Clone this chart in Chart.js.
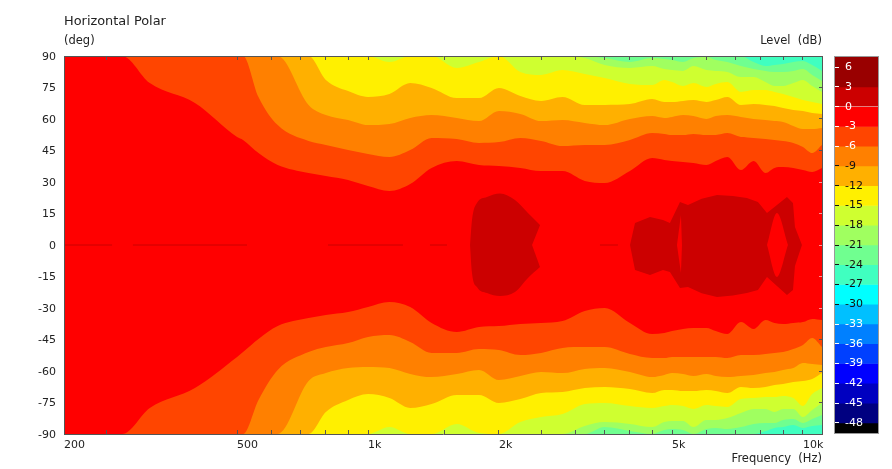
<!DOCTYPE html>
<html>
<head>
<meta charset="utf-8">
<title>Horizontal Polar</title>
<script src="https://cdn.jsdelivr.net/npm/chart.js@4/dist/chart.umd.min.js"></script>
<style>
  body { margin: 0; background: #fff; width: 892px; height: 469px; overflow: hidden; position: relative; }
  canvas { position: absolute; }
  .lbl { position: absolute; font: 11.5px "DejaVu Sans", sans-serif; color: #222; white-space: pre; line-height: 14px; }
</style>
</head>
<body>
<canvas id="polar" width="892" height="469" style="left:0;top:0"></canvas>
<canvas id="scale" width="45" height="378" style="left:834px;top:56px;outline:1px solid #999;outline-offset:-1px"></canvas>
<div class="lbl" style="left:64px;top:14px;font-size:12.9px">Horizontal Polar</div>
<div class="lbl" style="left:64px;top:33px">(deg)</div>
<div class="lbl" style="right:70px;top:33px">Level  (dB)</div>
<div class="lbl" style="right:70px;top:451px">Frequency  (Hz)</div>
<script>
// frequency grid the contours were read on (Hz)
const freqs = [200, 250, 272, 315, 400, 500, 516, 560, 620, 730, 800, 900, 1000, 1120, 1250, 1400, 1600, 1800, 2000, 2240, 2500, 2800, 3150, 3500, 4000, 4500, 4800, 5000, 5300, 5600, 6000, 6300, 6700, 7200, 7700, 8200, 8600, 9000, 9500, 10000, 10500, 11060];

// angle (deg) of each level contour, upper half
const upMinus3 = [90, 90, 90, 77.1, 67.6, 51.4, 50, 43.8, 38.1, 34.3, 32.9, 31, 28.1, 25.7, 29, 36.7, 40, 38.1, 37.6, 36.7, 35.2, 35.2, 30.5, 29.5, 35.2, 41.4, 40.5, 40, 39.5, 39, 38.1, 40, 41.9, 35.7, 40, 34.3, 36.7, 37.1, 36.7, 35.7, 34.8, 36.7];
const upMinus6 = [90, 90, 90, 90, 90, 90, 90, 70.5, 57.1, 49.5, 47.6, 45.2, 43.3, 41.9, 45.2, 51, 50.5, 48.6, 49, 51, 49.5, 47.1, 47.6, 47.6, 50, 53.3, 52.9, 52.4, 52.4, 52.9, 52.4, 52.4, 53.3, 51.4, 51, 50.5, 50, 49.5, 48.6, 46.7, 43.8, 47.6];
const upMinus9 = [90, 90, 90, 90, 90, 90, 90, 90, 90, 66.7, 61.9, 59.5, 57.1, 57.6, 60.5, 61.9, 60.5, 59, 63.8, 62.4, 59, 59.5, 58.1, 57.1, 60, 61.4, 60.5, 61, 61.9, 61.4, 60, 61.4, 61.9, 61, 60, 59.5, 59, 58.6, 56.7, 55.2, 55.2, 55.7];
const upMinus12 = [90, 90, 90, 90, 90, 90, 90, 90, 90, 90, 78.6, 73.3, 70.5, 71.9, 77.1, 74.8, 70, 70, 74.8, 71, 68.6, 70.5, 66.7, 66.7, 67.1, 69.5, 68.1, 68.1, 68.6, 69, 68.1, 69, 70.5, 66.7, 67.1, 66.7, 66.2, 65.2, 64.3, 63.8, 62.9, 62.4];
const upMinus15 = [90, 90, 90, 90, 90, 90, 90, 90, 90, 90, 90, 90, 90, 87.1, 90, 90, 84.3, 87.1, 90, 82.4, 81, 83.3, 81.4, 79.5, 76.7, 76.2, 78.6, 77.6, 75.7, 77.1, 75.2, 76.7, 77.6, 72.9, 73.8, 73.8, 72.9, 71.9, 70.5, 69, 68.1, 67.1];
const upMinus18 = [90, 90, 90, 90, 90, 90, 90, 90, 90, 90, 90, 90, 90, 90, 90, 90, 90, 90, 90, 90, 90, 90, 89, 85.7, 84.3, 85.2, 83.8, 83.3, 82.9, 85.2, 83.3, 82.9, 82.4, 80, 80, 77.6, 75.7, 75.7, 77.1, 78.6, 75.7, 72.9];
const upMinus21 = [90, 90, 90, 90, 90, 90, 90, 90, 90, 90, 90, 90, 90, 90, 90, 90, 90, 90, 90, 90, 90, 90, 90, 89, 87.1, 89, 88.6, 88.1, 87.1, 89, 89.5, 88.1, 87.1, 85.2, 83.8, 82.9, 82.4, 82.4, 82.9, 83.8, 81, 78.1];
const upMinus24 = [90, 90, 90, 90, 90, 90, 90, 90, 90, 90, 90, 90, 90, 90, 90, 90, 90, 90, 90, 90, 90, 90, 90, 90, 90, 90, 90, 90, 90, 90, 90, 90, 90, 90, 87.1, 85.2, 85.7, 86.2, 87.1, 87.6, 85.7, 82.9];

// same contours, lower half
const dnMinus3 = [-90, -90, -90, -77.6, -68.1, -53.3, -51, -44.8, -38.6, -34.8, -33.3, -31.9, -29.5, -27.1, -29.5, -37.1, -41.4, -39, -38.6, -37.6, -37.1, -36.2, -31.4, -30, -37.1, -42.4, -41.9, -41, -40, -39.5, -39.5, -41, -42.4, -36.7, -40, -35.7, -37.1, -37.6, -37.1, -36.7, -35.2, -35.7];
const dnMinus6 = [-90, -90, -90, -90, -90, -90, -90, -73.8, -59.5, -51, -48.6, -46.7, -43.8, -42.9, -46.2, -51.4, -51.4, -49.5, -50, -52.4, -51.4, -49, -48.6, -48.6, -51.9, -53.8, -53.8, -53.3, -53.3, -53.3, -53.3, -53.3, -53.8, -52.4, -52.4, -51.9, -51.4, -51, -49.5, -47.6, -44.3, -48.6];
const dnMinus9 = [-90, -90, -90, -90, -90, -90, -90, -90, -90, -64.8, -61, -58.6, -58.1, -58.6, -61.4, -62.9, -61.4, -59.5, -64.3, -62.4, -60.5, -61, -59, -58.6, -60.5, -62.9, -61.9, -61, -61.4, -62.4, -61.4, -62.4, -62.9, -62.4, -61.9, -61, -60.5, -59.5, -58.6, -56.2, -56.7, -57.1];
const dnMinus12 = [-90, -90, -90, -90, -90, -90, -90, -90, -90, -90, -79.5, -73.8, -71, -72.9, -77.6, -75.7, -71.4, -71.4, -75.2, -73.3, -70.5, -70, -68.1, -67.6, -68.6, -70.5, -69, -69, -69.5, -69.5, -69, -69.5, -70.5, -67.6, -68.1, -67.6, -66.7, -66.2, -65.2, -64.8, -63.8, -61];
const dnMinus15 = [-90, -90, -90, -90, -90, -90, -90, -90, -90, -90, -90, -90, -90, -86.7, -90, -90, -85.2, -89.5, -90, -84.3, -81.9, -80.5, -75.7, -75.2, -76.7, -77.6, -76.7, -76.2, -76.7, -78.1, -76.2, -76.7, -77.1, -73.3, -72.9, -72.4, -72.4, -71.9, -72.9, -76.7, -71, -68.1];
const dnMinus18 = [-90, -90, -90, -90, -90, -90, -90, -90, -90, -90, -90, -90, -90, -90, -90, -90, -90, -90, -90, -90, -90, -90, -86.2, -84.3, -85.2, -86.7, -84.3, -83.8, -83.8, -86.7, -83.3, -83.3, -82.4, -80, -78.1, -78.1, -79.5, -78.1, -78.1, -81.9, -78.6, -75.2];
const dnMinus21 = [-90, -90, -90, -90, -90, -90, -90, -90, -90, -90, -90, -90, -90, -90, -90, -90, -90, -90, -90, -90, -90, -90, -90, -86.7, -88.6, -90, -88.1, -87.6, -88.1, -90, -87.6, -87.1, -87.6, -86.7, -85.2, -84.8, -84.8, -83.3, -82.9, -84.8, -82.9, -81];
const dnMinus24 = [-90, -90, -90, -90, -90, -90, -90, -90, -90, -90, -90, -90, -90, -90, -90, -90, -90, -90, -90, -90, -90, -90, -90, -90, -90, -90, -90, -90, -90, -90, -90, -90, -90, -90, -90, -88.6, -87.1, -86.7, -85.7, -87.1, -86.2, -85.7];

// 0 dB islands (above 0 dB, dark red)
const island1Freq = [1716, 1734, 1780, 1877, 2011, 2177, 2332, 2486];
const island1Up = [0, 11.9, 20, 22.9, 24.5, 21.4, 15.2, 9.5];
const island1Dn = [0, -13.3, -20, -22.9, -24.3, -22.4, -15.7, -10.5];
const island2Freq = [4002, 4110, 4450, 4766, 4945, 5215, 5440, 5850, 6344, 6900, 7430, 7880, 8265, 9188, 9485, 9585, 9947];
const island2Up = [0, 10.5, 13.3, 11.9, 10.5, 20.5, 19, 22, 23.8, 23.3, 22.4, 20.5, 15.2, 22.9, 20, 8.6, 0];
const island2Dn = [0, -11.9, -14.3, -11.9, -12.9, -20.5, -20, -23, -24.8, -24, -22.9, -21.4, -15.2, -23.8, -21.4, -10, 0];

// red holes and notches inside the islands
const notchFreq = [2383, 2486];
const notchUp = [0, 9.5];
const notchDn = [0, -10.5];
const slitFreq = [5133, 5241, 5270];
const slitUp = [0, 14.3, 0];
const slitDn = [0, -13.3, 0];
const lensFreq = [8265, 8712, 9236];
const lensUp = [0, 15.2, 0];
const lensDn = [0, -15.2, 0];

// thin 0 dB traces along the 0 deg axis
const traceFreq = [201, 258, 258, 288, 527, 527, 809, 1203, 1203, 1388, 1519, 1519, 3414, 3755];
const traceDeg = [0, 0, null, 0, 0, null, 0, 0, null, 0, 0, null, 0, 0];

const angleTicks = [90, 75, 60, 45, 30, 15, 0, -15, -30, -45, -60, -75, -90];
const freqTicks = [200, 250, 500, 600, 700, 800, 900, 1000, 1500, 2000, 2500, 3000, 3500, 4000, 4500, 5000, 6000, 7000, 8000, 9000, 10000];
const freqLabels = { 200: "200", 500: "500", 1000: "1k", 2000: "2k", 5000: "5k", 10000: "10k" };

const levelTicks = [6, 3, 0, -3, -6, -9, -12, -15, -18, -21, -24, -27, -30, -33, -36, -39, -42, -45, -48];
const levelTop = 7.7;
const levelBottom = -49.7;
const bandTops = [levelTop, 3, 0, -3, -6, -9, -12, -15, -18, -21, -24, -27, -30, -33, -36, -39, -42, -45, -48];
const bandBottoms = [3, 0, -3, -6, -9, -12, -15, -18, -21, -24, -27, -30, -33, -36, -39, -42, -45, -48, levelBottom];
const bandColors = ["#990000", "#cc0000", "#ff0000", "#ff4500", "#ff8000", "#ffb000", "#fff000", "#cfff30", "#a0ff60", "#70ff90", "#40ffc0", "#00ffff", "#00c0ff", "#0080ff", "#0040ff", "#0000ff", "#0000c0", "#000080", "#000000"];
const FONT = { family: "'DejaVu Sans', sans-serif", size: 11 };
const AXIS = "#555";

const upContours = [upMinus3, upMinus6, upMinus9, upMinus12, upMinus15, upMinus18, upMinus21, upMinus24];
const dnContours = [dnMinus3, dnMinus6, dnMinus9, dnMinus12, dnMinus15, dnMinus18, dnMinus21, dnMinus24];

function points(xs, ys) {
  return xs.map((x, i) => ({ x: x, y: ys[i] }));
}

function area(data, fill, color, smooth) {
  return {
    data: data,
    fill: fill,
    backgroundColor: color,
    borderWidth: 0,
    pointRadius: 0,
    cubicInterpolationMode: smooth ? "monotone" : "default",
    tension: 0,
  };
}

const datasets = [];
datasets.push(area(points([200, 11060], [90, 90]), { value: -90 }, bandColors[2], false));
upContours.forEach((c, i) => {
  datasets.push(area(points(freqs, c), "end", bandColors[i + 3], true));
  datasets.push(area(points(freqs, dnContours[i]), "start", bandColors[i + 3], true));
});

function addBetween(xs, up, dn, color, smooth) {
  datasets.push(area(points(xs, up), "+1", color, smooth));
  datasets.push(area(points(xs, dn), false, color, smooth));
}
addBetween(island1Freq, island1Up, island1Dn, bandColors[1], true);
addBetween(notchFreq, notchUp, notchDn, bandColors[2], false);
addBetween(island2Freq, island2Up, island2Dn, bandColors[1], false);
addBetween(slitFreq, slitUp, slitDn, bandColors[2], false);
addBetween(lensFreq, lensUp, lensDn, bandColors[2], true);
datasets.push({ data: points(traceFreq, traceDeg), borderColor: bandColors[1], borderWidth: 1, pointRadius: 0, fill: false, spanGaps: false });

// later layers paint over earlier ones
datasets.forEach((d, i) => { d.order = datasets.length - i; });

function fixedSize(prop, size) {
  return (scale) => { scale[prop] = size; };
}
function setTicks(values) {
  return (scale) => { scale.ticks = values.map((v) => ({ value: v })); };
}

const freqAxis = (position, size, showLabels) => ({
  type: "logarithmic",
  position: position,
  min: 200,
  max: 11060,
  afterBuildTicks: setTicks(freqTicks),
  afterFit: fixedSize("height", size),
  border: { color: AXIS, z: 1 },
  grid: { drawOnChartArea: false, tickLength: -4, tickColor: AXIS, z: 1 },
  ticks: {
    display: showLabels,
    autoSkip: false,
    maxRotation: 0,
    align: "start",
    padding: 9,
    color: "#222",
    font: FONT,
    callback: (v) => freqLabels[v] || "",
  },
});

const polarChart = new Chart(document.getElementById("polar"), {
  type: "line",
  data: { datasets: datasets },
  options: {
    responsive: false,
    animation: false,
    devicePixelRatio: 1,
    events: [],
    layout: { padding: { left: 0, right: 70, top: 56, bottom: 0 } },
    plugins: { legend: { display: false }, tooltip: { enabled: false } },
    scales: {
      x: freqAxis("bottom", 35, true),
      x2: freqAxis("top", 0, false),
      y: {
        min: -90,
        max: 90,
        afterBuildTicks: setTicks(angleTicks),
        afterFit: fixedSize("width", 64),
        border: { color: AXIS, z: 1 },
        grid: { drawOnChartArea: false, drawTicks: false },
        ticks: { padding: 8, labelOffset: 1, color: "#222", font: FONT, callback: (v) => String(v) },
      },
      y2: {
        position: "right",
        min: -90,
        max: 90,
        afterBuildTicks: setTicks(angleTicks),
        afterFit: fixedSize("width", 0),
        border: { color: AXIS, z: 1 },
        grid: {
          drawOnChartArea: false,
          tickLength: -3,
          z: 1,
          tickColor: (ctx) => (Math.abs(ctx.tick.value) <= 30 ? "#ff9090" : AXIS),
        },
        ticks: { display: false },
      },
    },
  },
});

const levelInk = (value) => (value >= -6 || value <= -33 ? "#fff" : "#111");

const scaleChart = new Chart(document.getElementById("scale"), {
  type: "bar",
  data: {
    labels: ["level"],
    datasets: bandColors.map((c, i) => ({
      data: [[bandBottoms[i], bandTops[i]]],
      backgroundColor: c,
      borderWidth: 0,
      barPercentage: 1,
      categoryPercentage: 1,
      grouped: false,
    })),
  },
  options: {
    responsive: false,
    animation: false,
    devicePixelRatio: 1,
    events: [],
    layout: { padding: 0, autoPadding: false },
    plugins: { legend: { display: false }, tooltip: { enabled: false } },
    scales: {
      x: { display: false },
      y: {
        min: levelBottom,
        max: levelTop,
        afterBuildTicks: setTicks(levelTicks),
        // tick padding must not shrink the bar
        afterFit: (scale) => {
          scale.width = 0;
          scale.paddingTop = 0;
          scale.paddingBottom = 0;
        },
        border: { display: false },
        grid: {
          drawOnChartArea: false,
          tickLength: -5,
          z: 1,
          tickColor: (ctx) => levelInk(ctx.tick.value),
        },
        ticks: {
          mirror: true,
          z: 1,
          padding: 11,
          font: FONT,
          color: (ctx) => levelInk(ctx.tick.value),
          callback: (v) => String(v),
        },
      },
    },
  },
});
</script>
</body>
</html>
